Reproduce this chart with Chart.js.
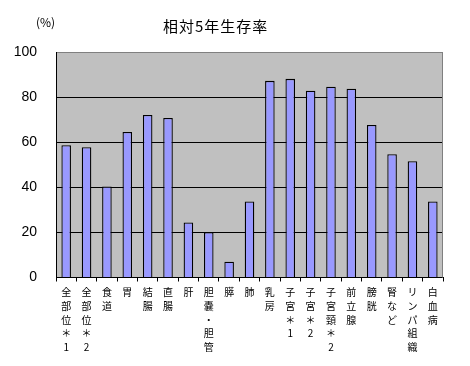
<!DOCTYPE html>
<html>
<head>
<meta charset="utf-8">
<script src="https://cdn.jsdelivr.net/npm/chart.js@4.4.0/dist/chart.umd.min.js"></script>
<style>
  html, body { margin: 0; padding: 0; background: #fff; }
  #wrap { width: 470px; height: 366px; }
</style>
</head>
<body>
<div id="wrap"><canvas id="survivalChart" width="470" height="366"></canvas></div>
<script>
// 部位別 相対5年生存率 (%)
var categories = ["全部位＊1", "全部位＊2", "食道", "胃", "結腸", "直腸", "肝", "胆嚢・胆管", "膵", "肺",
  "乳房", "子宮＊1", "子宮＊2", "子宮頸＊2", "前立腺", "膀胱", "腎など", "リンパ組織", "白血病"];
var survivalRates = [58.7, 57.8, 40.4, 64.5, 72.1, 70.7, 24.4, 20.1, 7.0, 33.7,
  87.2, 88.1, 82.8, 84.6, 83.7, 67.6, 54.7, 51.6, 33.7];
var yTicks = [0, 20, 40, 60, 80, 100];
var chartTitle = "相対5年生存率";
var unitLabel = "(%)";

var jpFont = "'Noto Sans CJK JP', sans-serif";

// each label stacked vertically, one character per line
var verticalLabels = categories.map(function (s) { return Array.from(s); });

var plotBackground = {
  id: "plotBackground",
  beforeDraw: function (chart) {
    var a = chart.chartArea;
    var ctx = chart.ctx;
    ctx.save();
    ctx.fillStyle = "#c0c0c0";
    ctx.fillRect(a.left, a.top, a.right - a.left, a.bottom - a.top);
    ctx.restore();
  },
  afterDraw: function (chart) {
    var a = chart.chartArea;
    var ctx = chart.ctx;
    ctx.save();
    ctx.strokeStyle = "#808080";
    ctx.lineWidth = 1;
    ctx.beginPath();
    ctx.moveTo(Math.round(a.right) - 0.5, a.top);
    ctx.lineTo(Math.round(a.right) - 0.5, a.bottom);
    ctx.stroke();
    ctx.fillStyle = "#000";
    ctx.textBaseline = "middle";
    ctx.font = "15px " + jpFont;
    ctx.letterSpacing = "1px";
    ctx.textAlign = "left";
    ctx.fillText(chartTitle, 163, 26);
    ctx.letterSpacing = "0px";
    ctx.font = "12px " + jpFont;
    ctx.fillText(unitLabel, 36, 22);
    ctx.restore();
  }
};

var ctx = document.getElementById("survivalChart").getContext("2d");
var chart = new Chart(ctx, {
  type: "bar",
  data: {
    labels: verticalLabels,
    datasets: [
      {
        data: survivalRates,
        backgroundColor: "#9999ff",
        borderColor: "#000000",
        borderWidth: 1.3,
        barPercentage: 0.47,
        categoryPercentage: 1.0
      }
    ]
  },
  options: {
    responsive: false,
    animation: false,
    layout: { padding: { left: 14, right: 27, top: 52, bottom: 8 } },
    plugins: {
      legend: { display: false },
      title: { display: false },
      tooltip: { enabled: false }
    },
    scales: {
      x: {
        offset: true,
        grid: {
          offset: true,
          drawOnChartArea: false,
          color: "#000",
          tickLength: 4
        },
        border: { color: "#000", width: 1 },
        ticks: {
          maxRotation: 0,
          minRotation: 0,
          autoSkip: false,
          padding: 4,
          color: "#000",
          font: { family: jpFont, size: 10, lineHeight: 1.37 }
        }
      },
      y: {
        min: 0,
        max: 100,
        afterBuildTicks: function (axis) {
          axis.ticks = yTicks.map(function (v) { return { value: v }; });
        },
        afterFit: function (axis) {
          axis.width = 42;
        },
        grid: {
          color: function (c) { return c.tick && c.tick.value === 100 ? "#808080" : "#000"; },
          drawTicks: false
        },
        border: { color: "#000", width: 1 },
        ticks: {
          padding: 19,
          color: "#000",
          font: { family: "'Liberation Sans', Arial, sans-serif", size: 14 }
        }
      }
    }
  },
  plugins: [plotBackground]
});
</script>
</body>
</html>
